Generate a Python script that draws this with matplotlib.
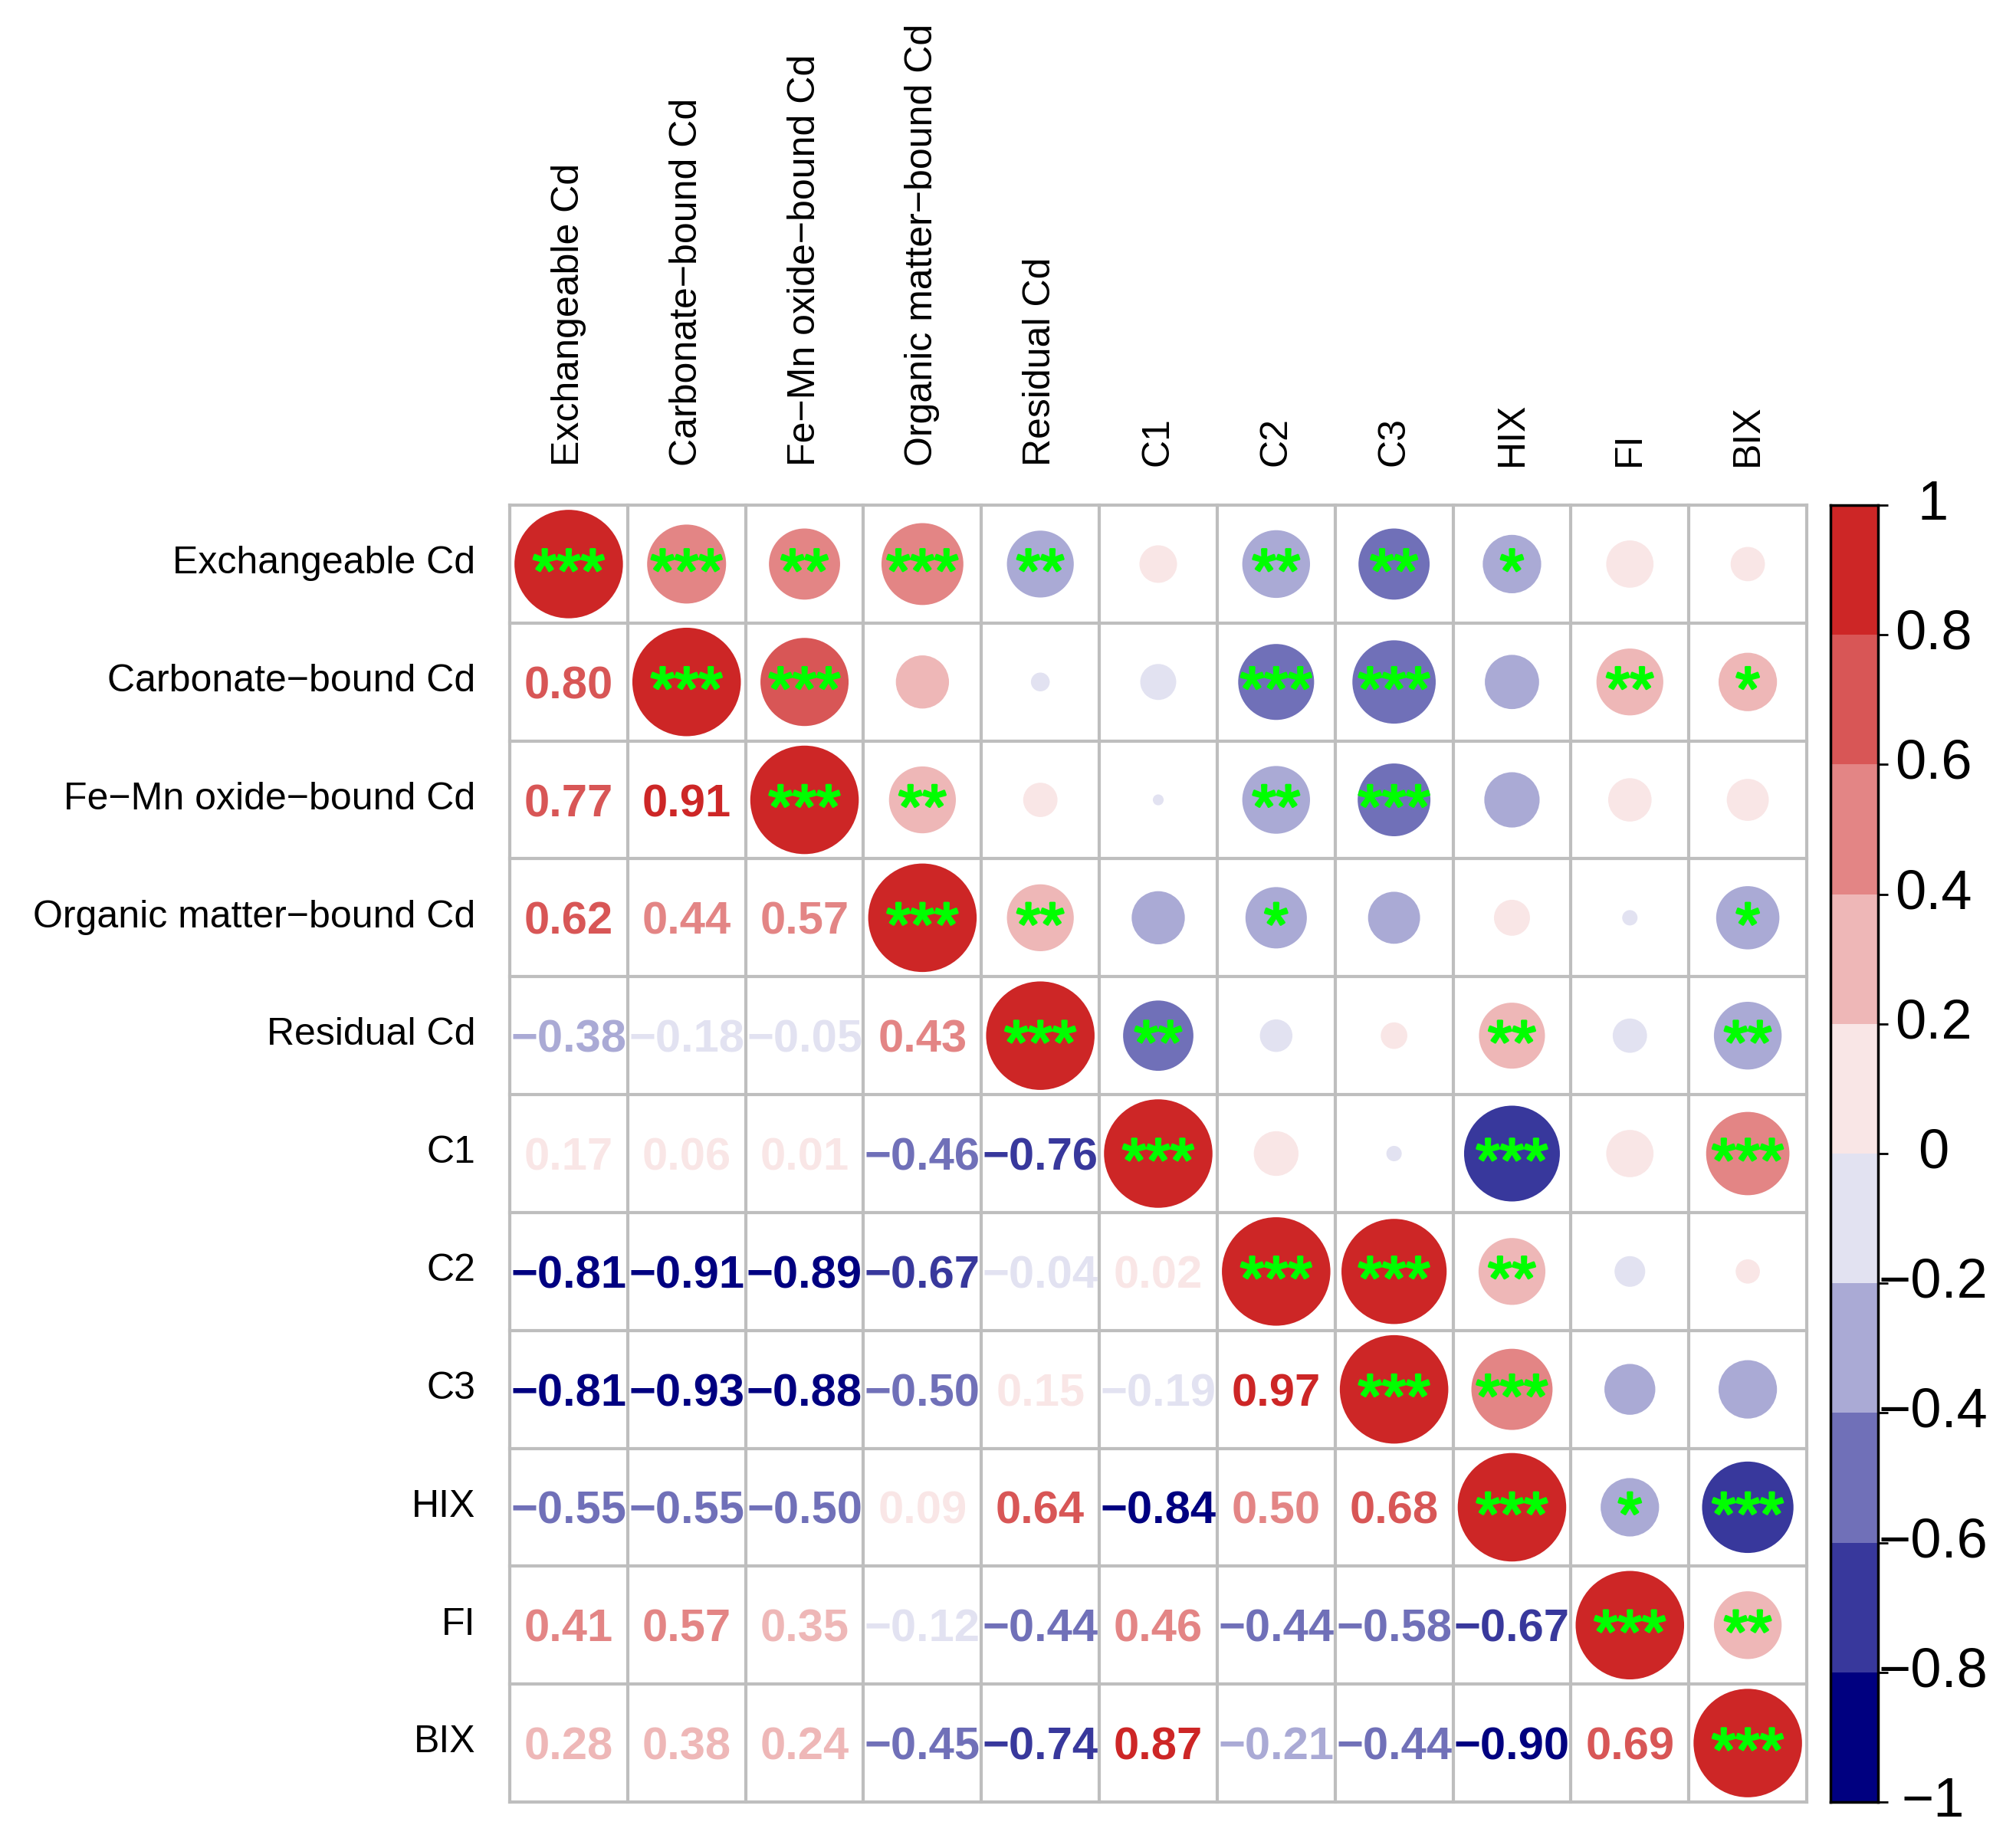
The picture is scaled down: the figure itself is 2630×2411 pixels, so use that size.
import numpy as np
import matplotlib
matplotlib.use("Agg")
import matplotlib.pyplot as plt
from matplotlib.colors import LinearSegmentedColormap, ListedColormap, BoundaryNorm
from matplotlib.patches import Circle
import matplotlib.transforms as mtransforms
import matplotlib.patheffects as pe

plt.rcParams["font.family"] = ["Liberation Sans", "DejaVu Sans"]

# variables (same order for rows and columns)
labels = ["Exchangeable Cd", "Carbonate\u2212bound Cd", "Fe\u2212Mn oxide\u2212bound Cd",
          "Organic matter\u2212bound Cd", "Residual Cd", "C1", "C2", "C3", "HIX", "FI", "BIX"]

# lower triangle: printed coefficients, row i has columns 1..i-1
lower_r = [
    [],
    [0.80],
    [0.77, 0.91],
    [0.62, 0.44, 0.57],
    [-0.38, -0.18, -0.05, 0.43],
    [0.17, 0.06, 0.01, -0.46, -0.76],
    [-0.81, -0.91, -0.89, -0.67, -0.04, 0.02],
    [-0.81, -0.93, -0.88, -0.50, 0.15, -0.19, 0.97],
    [-0.55, -0.55, -0.50, 0.09, 0.64, -0.84, 0.50, 0.68],
    [0.41, 0.57, 0.35, -0.12, -0.44, 0.46, -0.44, -0.58, -0.67],
    [0.28, 0.38, 0.24, -0.45, -0.74, 0.87, -0.21, -0.44, -0.90, 0.69],
]

# upper triangle: circles (estimated from size/colour), row i has columns i+1..11
upper_r = [
    [0.53, 0.43, 0.57, -0.38, 0.12, -0.39, -0.43, -0.29, 0.19, 0.10],
    [0.66, 0.24, -0.03, -0.11, -0.49, -0.59, -0.25, 0.38, 0.29],
    [0.38, 0.10, -0.01, -0.39, -0.45, -0.26, 0.16, 0.15],
    [0.38, -0.24, -0.32, -0.23, 0.11, -0.02, -0.34],
    [-0.42, -0.09, 0.06, 0.37, -0.10, -0.39],
    [0.17, -0.02, -0.78, 0.19, 0.59],
    [0.94, 0.38, -0.08, 0.05],
    [0.56, -0.22, -0.29],
    [-0.29, -0.71],
    [0.39],
    [],
]
upper_sig = [
    ["***", "**", "***", "**", "", "**", "**", "*", "", ""],
    ["***", "", "", "", "***", "***", "", "**", "*"],
    ["**", "", "", "**", "***", "", "", ""],
    ["**", "", "*", "", "", "", "*"],
    ["**", "", "", "**", "", "**"],
    ["", "", "***", "", "***"],
    ["***", "**", "", ""],
    ["***", "", ""],
    ["*", "***"],
    ["**"],
    [],
]

cb_ticks = [1, 0.8, 0.6, 0.4, 0.2, 0, -0.2, -0.4, -0.6, -0.8, -1]

# colour bins like corrplot: navy -> white -> firebrick3, 10 steps
ramp = LinearSegmentedColormap.from_list("rb", ["#000080", "#FFFFFF", "#CD2626"])
bin_cols = [ramp(v) for v in np.linspace(0, 1, 10)]


def bin_color(r):
    k = int(np.ceil(round((r + 1) / 0.2, 6))) - 1
    return bin_cols[min(max(k, 0), 9)]


def fmt(r):
    s = f"{abs(r):.2f}"
    return ("\u2212" + s) if r < 0 else s


n = len(labels)
W, H = 2630, 2411
fig = plt.figure(figsize=(W / 100, H / 100), dpi=100)

gl, gr, gt, gb = 665, 2357, 659, 2351
ax = fig.add_axes([gl / W, (H - gb) / H, (gr - gl) / W, (gb - gt) / H])
ax.set_xlim(0.5, n + 0.5)
ax.set_ylim(n + 0.5, 0.5)
ax.axis("off")

# grid
for k in range(n + 1):
    ax.plot([0.5, n + 0.5], [k + 0.5, k + 0.5], color="#BEBEBE", lw=3, zorder=1,
            solid_capstyle="projecting", clip_on=False)
    ax.plot([k + 0.5, k + 0.5], [0.5, n + 0.5], color="#BEBEBE", lw=3, zorder=1,
            solid_capstyle="projecting", clip_on=False)

star_col = "#00FF00"
star_kw = dict(ha="center", va="baseline", fontsize=58, color=star_col, zorder=4,
               path_effects=[pe.withStroke(linewidth=2.2, foreground=star_col)])
star_dy = 0.235

# diagonal
for i in range(1, n + 1):
    ax.add_patch(Circle((i, i), 0.46, color=bin_color(1.0), lw=0, zorder=2))
    ax.text(i, i + star_dy, "***", **star_kw)

# upper triangle circles
for i in range(1, n + 1):
    for k, r in enumerate(upper_r[i - 1]):
        j = i + 1 + k
        ax.add_patch(Circle((j, i), 0.46 * np.sqrt(abs(r)), color=bin_color(r),
                            lw=0, zorder=2))
        s = upper_sig[i - 1][k]
        if s:
            ax.text(j, i + star_dy, s, **star_kw)

# lower triangle numbers
for i in range(1, n + 1):
    for j, r in enumerate(lower_r[i - 1], start=1):
        ax.text(j, i + 0.14, fmt(r), ha="center", va="baseline", fontsize=43,
                fontweight="bold", color=bin_color(r), zorder=4)

# row and column labels
for i, lab in enumerate(labels, start=1):
    ax.text(0.21, i + 0.08, lab, ha="right", va="baseline", fontsize=36,
            clip_on=False)
    ax.text(i, 0.17, lab, ha="center", va="bottom", rotation=90, fontsize=36,
            clip_on=False)

# colour legend
cl, cr = 2388, 2450
cax = fig.add_axes([cl / W, (H - gb) / H, (cr - cl) / W, (gb - gt) / H])
levels = np.linspace(-1, 1, 11)
mids = (levels[:-1] + levels[1:]) / 2
cax.pcolormesh([0, 1], levels, mids.reshape(-1, 1), cmap=ListedColormap(bin_cols),
               norm=BoundaryNorm(levels, 10))
cax.set_xlim(0, 1)
cax.set_ylim(-1, 1)
cax.set_xticks([])
cax.yaxis.tick_right()
cax.set_yticks(cb_ticks)
cax.tick_params(axis="y", length=9, width=2, labelright=False, labelleft=False)
for sp in cax.spines.values():
    sp.set_linewidth(2.5)
    sp.set_color("black")
trans = mtransforms.blended_transform_factory(cax.transAxes, cax.transData)
for t in cb_ticks:
    lab = "0" if t == 0 else (("\u2212" if t < 0 else "") + (f"{abs(t):g}"))
    cax.text((2522 - cl) / (cr - cl), t, lab, transform=trans, ha="center",
             va="center", fontsize=52, clip_on=False)

fig.savefig("out.png", dpi=100, facecolor="white")
